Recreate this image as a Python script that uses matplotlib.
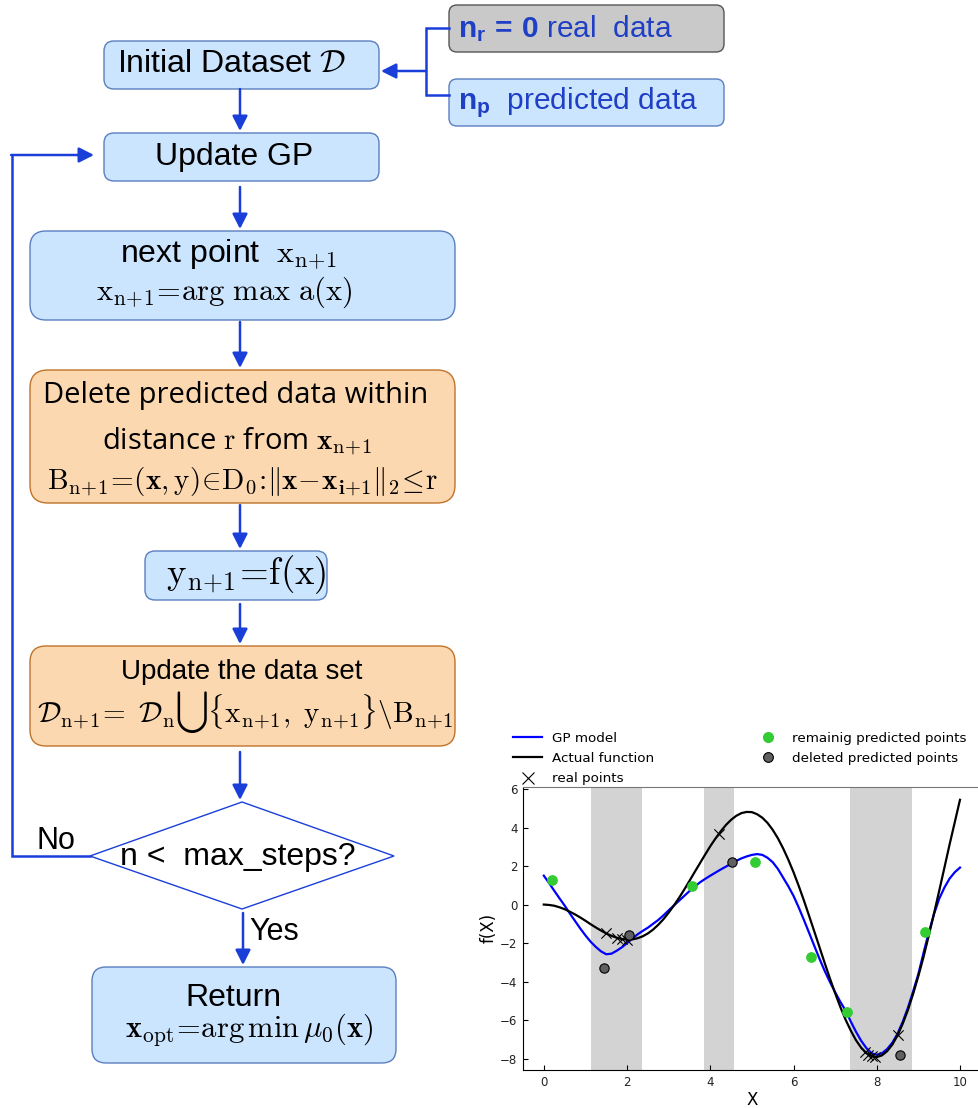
import matplotlib
matplotlib.use('Agg')
import matplotlib.pyplot as plt
from matplotlib.patches import FancyBboxPatch, Polygon, FancyArrowPatch
from matplotlib.lines import Line2D

# ---------------- data ----------------
x_grid = [0.0, 0.125, 0.25, 0.375, 0.5, 0.625, 0.75, 0.875, 1.0, 1.125, 1.25,
          1.375, 1.5, 1.625, 1.75, 1.875, 2.0, 2.125, 2.25, 2.375, 2.5, 2.625,
          2.75, 2.875, 3.0, 3.125, 3.25, 3.375, 3.5, 3.625, 3.75, 3.875, 4.0,
          4.125, 4.25, 4.375, 4.5, 4.625, 4.75, 4.875, 5.0, 5.125, 5.25, 5.375,
          5.5, 5.625, 5.75, 5.875, 6.0, 6.125, 6.25, 6.375, 6.5, 6.625, 6.75,
          6.875, 7.0, 7.125, 7.25, 7.375, 7.5, 7.625, 7.75, 7.875, 8.0, 8.125,
          8.25, 8.375, 8.5, 8.625, 8.75, 8.875, 9.0, 9.125, 9.25, 9.375, 9.5,
          9.625, 9.75, 9.875, 10.0]
gp_mean = [1.50, 1.12, 0.72, 0.33, -0.05, -0.46, -0.85, -1.24, -1.60, -1.93, -2.20,
           -2.43, -2.58, -2.55, -2.40, -2.22, -2.00, -1.77, -1.55, -1.37, -1.20, -1.00,
           -0.80, -0.56, -0.30, -0.05, 0.20, 0.45, 0.70, 0.93, 1.15, 1.33, 1.50,
           1.66, 1.82, 1.97, 2.12, 2.27, 2.40, 2.50, 2.58, 2.62, 2.58, 2.43,
           2.20, 1.85, 1.40, 0.95, 0.45, -0.15, -0.80, -1.47, -2.15, -2.82, -3.45,
           -4.02, -4.55, -5.05, -5.50, -6.07, -6.60, -7.07, -7.45, -7.72, -7.80, -7.72,
           -7.50, -7.17, -6.70, -6.08, -5.35, -4.50, -3.60, -2.50, -1.45, -0.50, 0.30,
           0.88, 1.35, 1.68, 1.92]
actual_f = [0.00, -0.02, -0.06, -0.14, -0.24, -0.37, -0.51, -0.67, -0.84, -1.02, -1.19,
            -1.35, -1.50, -1.62, -1.72, -1.79, -1.82, -1.81, -1.75, -1.65, -1.50, -1.30,
            -1.05, -0.76, -0.42, -0.05, 0.35, 0.78, 1.23, 1.69, 2.14, 2.59, 3.03,
            3.43, 3.80, 4.13, 4.40, 4.61, 4.75, 4.81, 4.80, 4.69, 4.51, 4.24,
            3.88, 3.44, 2.92, 2.33, 1.68, 0.97, 0.21, -0.59, -1.40, -2.22, -3.04,
            -3.84, -4.60, -5.32, -5.97, -6.54, -7.04, -7.43, -7.71, -7.87, -7.92, -7.83,
            -7.61, -7.27, -6.79, -6.18, -5.47, -4.63, -3.71, -2.71, -1.61, -0.47, 0.71,
            1.91, 3.12, 4.28, 5.44]
real_x = [1.50, 1.77, 1.87, 2.00, 4.20, 7.72, 7.80, 7.88, 7.96, 8.50]
real_y = [-1.50, -1.72, -1.78, -1.82, 3.66, -7.68, -7.79, -7.87, -7.91, -6.79]
remain_x = [0.20, 3.56, 5.07, 6.41, 7.28, 9.17]
remain_y = [1.29, 0.94, 2.22, -2.70, -5.58, -1.41]
deleted_x = [1.44, 2.04, 4.53, 8.56]
deleted_y = [-3.27, -1.60, 2.22, -7.81]
span_lo = [1.14, 3.85, 7.35]
span_hi = [2.37, 4.56, 8.85]
legend_labels = ['GP model', 'Actual function', 'real points',
                 'remainig predicted points', 'deleted predicted points']

# ---------------- styles ----------------
plt.rcParams['mathtext.fontset'] = 'custom'
plt.rcParams['mathtext.rm'] = 'Liberation Sans'
plt.rcParams['mathtext.bf'] = 'Liberation Sans:bold'
plt.rcParams['mathtext.it'] = 'Liberation Sans:italic'

ARIAL = ['Liberation Sans', 'DejaVu Sans']
OPEN = ['Open Sans', 'DejaVu Sans']
BLUE = '#1a3fd9'
BOX_BLUE_FC, BOX_BLUE_EC = '#cce5ff', '#5a7fbf'
BOX_OR_FC, BOX_OR_EC = '#fcd8b0', '#c0732a'

fig = plt.figure(figsize=(9.79, 11.08), dpi=100)
ax0 = fig.add_axes([0, 0, 1, 1])
ax0.set_xlim(0, 979)
ax0.set_ylim(1108, 0)
ax0.axis('off')


def box(x0, y0, x1, y1, fc, ec, r=10):
    p = FancyBboxPatch((x0, y0), x1 - x0, y1 - y0,
                       boxstyle=f'round,pad=0,rounding_size={r}',
                       fc=fc, ec=ec, lw=1.0, zorder=2)
    ax0.add_patch(p)


def arrow(p0, p1):
    a = FancyArrowPatch(p0, p1, arrowstyle='-|>,head_length=0.75,head_width=0.38',
                        mutation_scale=12, lw=1.8, color=BLUE,
                        shrinkA=0, shrinkB=0, zorder=3)
    ax0.add_patch(a)


def txt(x, y, s, size, fam=ARIAL, color='black', mfam='cm', ha='center', **kw):
    ax0.text(x, y, s, fontsize=size, family=fam, color=color, ha=ha,
             va='center', math_fontfamily=mfam, zorder=4, **kw)


# boxes
box(104, 41, 379, 89, BOX_BLUE_FC, BOX_BLUE_EC)
box(104, 133, 379, 181, BOX_BLUE_FC, BOX_BLUE_EC)
box(30, 231, 455, 320, BOX_BLUE_FC, BOX_BLUE_EC, r=16)
box(30, 370, 455, 503, BOX_OR_FC, BOX_OR_EC, r=18)
box(145, 551, 327, 600, BOX_BLUE_FC, BOX_BLUE_EC)
box(30, 646, 455, 746, BOX_OR_FC, BOX_OR_EC, r=16)
box(92, 967, 396, 1063, BOX_BLUE_FC, BOX_BLUE_EC, r=14)
box(449, 5, 724, 52, '#c9c9c9', '#555555', r=8)
box(449, 79, 724, 126, BOX_BLUE_FC, BOX_BLUE_EC, r=8)

# diamond
ax0.add_patch(Polygon([(90, 856), (242, 802), (394, 856), (242, 909)],
                      closed=True, fc='white', ec=BLUE, lw=1.0, zorder=2))

# arrows
arrow((240, 89), (240, 131))
arrow((240, 187), (240, 229))
arrow((240, 322), (240, 368))
arrow((240, 505), (240, 549))
arrow((240, 604), (240, 644))
arrow((240, 752), (240, 800))
arrow((243, 913), (243, 965))
ax0.plot([90, 12, 12], [856, 856, 155], color=BLUE, lw=1.8, zorder=3,
         solid_joinstyle='miter')
arrow((11.1, 155), (94, 155))
ax0.plot([449, 426, 426, 449], [28, 28, 95, 95], color=BLUE, lw=1.8, zorder=3,
         solid_joinstyle='miter')
arrow((426, 71), (381, 71))

# texts
txt(232, 64, r'Initial Dataset $\mathcal{D}$', 23)
txt(234, 157, 'Update GP', 23)
txt(229, 255, r'next point  $\mathrm{x_{n\!+\!1}}$', 23)
txt(224, 292, r'$\mathrm{x_{n\!+\!1}\!=\!arg\ max\ a(x)}$', 22)
txt(236, 395, 'Delete predicted data within', 21, fam=OPEN)
txt(237, 442, r'distance $\mathrm{r}$ from $\mathbf{x}_{\mathrm{n\!+\!1}}$', 21, fam=OPEN)
txt(242, 481, r'$\mathrm{B_{n\!+\!1}\!=\!(\mathbf{x},y)\!\in\!D_0\!:\!\|\mathbf{x}\!-\!\mathbf{x}_{\mathbf{i\!+\!1}}\|_2\!\leq\!r}$', 21)
txt(246, 575, r'$\mathrm{y_{n\!+\!1}\!=\!f(x)}$', 26.5)
txt(242, 672, 'Update the data set', 20)
txt(245, 712, r'$\mathcal{D}_{\mathrm{n\!+\!1}}\!=\ \mathcal{D}_{\mathrm{n}}\bigcup\{\mathrm{x_{n\!+\!1},\ y_{n\!+\!1}}\}\backslash\mathrm{B_{n\!+\!1}}$', 21)
txt(238, 857, 'n <  max_steps?', 23)
txt(56, 841, 'No', 22)
txt(249, 932, 'Yes', 22, ha='left')
txt(233, 998, 'Return', 23)
txt(249, 1030, r'$\mathbf{x}_{\mathrm{opt}}\!=\!\mathrm{arg\,min}\,\mu_{\mathbf{0}}(\mathbf{x})$', 22)
txt(458, 29, r'$\mathbf{n_r\,=\,0}$ real  data', 21.5, color='#1f3fc4', mfam='custom', ha='left')
txt(458, 103, r'$\mathbf{n_p}$  predicted data', 21.5, color='#1f3fc4', mfam='custom', ha='left')

# ---------------- chart ----------------
ax = fig.add_axes([523 / 979, 1 - 1070 / 1108, (980.8 - 523) / 979, (1070 - 786.7) / 1108])
for lo, hi in zip(span_lo, span_hi):
    ax.axvspan(lo, hi, color='#d3d3d3', lw=0, zorder=0)
ax.plot(x_grid, gp_mean, color='blue', lw=1.6, zorder=2)
ax.plot(x_grid, actual_f, color='black', lw=1.6, zorder=3)
ax.scatter(real_x, real_y, marker='x', s=55, color='black', lw=0.8, zorder=4)
ax.scatter(remain_x, remain_y, marker='o', s=45, color='#33cc33', zorder=4)
ax.scatter(deleted_x, deleted_y, marker='o', s=45, color='#606060',
           edgecolors='black', lw=0.8, zorder=4)
ax.set_xlim(-0.5, 10.5)
ax.set_ylim(-8.59, 6.12)
ax.set_xticks([0, 2, 4, 6, 8, 10])
ax.set_yticks([-8, -6, -4, -2, 0, 2, 4, 6])
ax.tick_params(direction='in', length=3.5, labelsize=8.5, pad=4, labelcolor='#222222')
ax.spines['top'].set_color('#777777')
ax.set_xlabel('X', fontsize=12, labelpad=2)
ax.set_ylabel('f(X)', fontsize=12, labelpad=2)

handles = [Line2D([], [], color='blue', lw=1.6),
           Line2D([], [], color='black', lw=1.6),
           Line2D([], [], color='black', marker='x', ms=9, mew=0.8, ls='none'),
           Line2D([], [], color='#33cc33', marker='o', ms=7, ls='none'),
           Line2D([], [], color='#606060', marker='o', ms=7, mec='black', mew=0.8, ls='none')]
ax.legend(handles, legend_labels, ncol=2, loc='lower left',
          bbox_to_anchor=(-0.024, 1.0), frameon=False, fontsize=9.7,
          handlelength=2.1, handletextpad=0.75, columnspacing=7.4,
          labelspacing=0.55, borderpad=0, borderaxespad=0.1)

fig.savefig('out.png', dpi=100)
